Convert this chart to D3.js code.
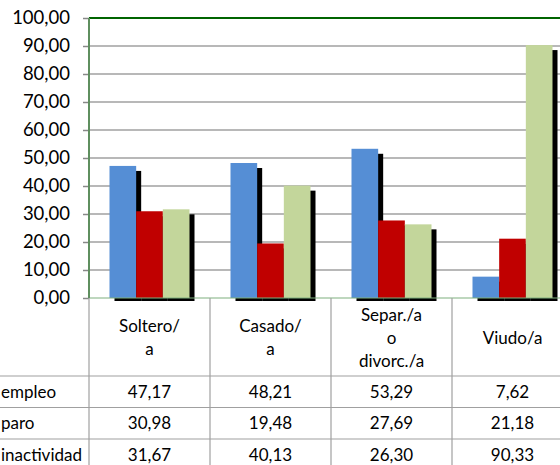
<!DOCTYPE html>
<html><head><meta charset="utf-8">
<script src="https://cdn.jsdelivr.net/npm/d3@7"></script>
<style>html,body{margin:0;padding:0;background:#fff;overflow:hidden}</style>
</head><body>
<svg id="c" width="560" height="465"></svg>
<script>
const categories = [["Soltero/","a"],["Casado/","a"],["Separ./a","o","divorc./a"],["Viudo/a"]];
const seriesNames = ["empleo","paro","inactividad"];
const empleo = [47.17, 48.21, 53.29, 7.62];
const paro = [30.98, 19.48, 27.69, 21.18];
const inactividad = [31.67, 40.13, 26.30, 90.33];
const yTicks = [0,10,20,30,40,50,60,70,80,90,100];
const colors = ["#558ed5","#c00000","#c3d69b"];

const seriesVals = [empleo, paro, inactividad];
const fmt = v => v.toFixed(2).replace(".", ",");
const svg = d3.select("#c");
const FONT = "Lato, 'Open Sans', sans-serif";
const TFS = 17;

const pLeft = 89, plotRight = 573, pTop = 18, base = 298;
const x = d3.scaleBand().domain(d3.range(categories.length)).range([pLeft, plotRight]).paddingInner(0).paddingOuter(0);
const bw = x.bandwidth();
const xs = d3.scaleBand().domain(d3.range(3)).range([20.5, bw - 20.5]);
const y = d3.scaleLinear().domain([0,100]).range([base, pTop]);

// gridlines
svg.append("g").selectAll("line").data(yTicks.filter(t => t > 0 && t < 100)).join("line")
  .attr("x1", pLeft).attr("x2", 560).attr("y1", d => y(d)).attr("y2", d => y(d))
  .attr("stroke", "#a0a0a0").attr("stroke-width", 1.6);

// y axis
const yAxis = d3.axisLeft(y).tickValues(yTicks).tickFormat(fmt).tickSize(6).tickPadding(13);
const ga = svg.append("g").attr("transform", `translate(${pLeft},0)`).call(yAxis);
ga.select(".domain").remove();
ga.selectAll(".tick line").attr("stroke", "#888").attr("stroke-width", 1.5);
ga.selectAll(".tick text").attr("font-family", FONT).attr("font-size", 18.5).attr("fill", "#000");

// shadows
const gs = svg.append("g");
seriesVals.forEach((vals, si) => {
  gs.selectAll(null).data(vals).join("rect")
    .attr("x", (d,i) => x(i) + xs(si) + 5)
    .attr("y", d => y(d) + 5)
    .attr("width", xs.bandwidth())
    .attr("height", d => base + 3 - (y(d) + 5))
    .attr("fill", "#000");
});
// bars
const gb = svg.append("g");
seriesVals.forEach((vals, si) => {
  gb.selectAll(null).data(vals).join("rect")
    .attr("x", (d,i) => x(i) + xs(si))
    .attr("y", d => y(d))
    .attr("width", xs.bandwidth())
    .attr("height", d => base - y(d))
    .attr("fill", colors[si]);
});

// baseline
svg.append("line").attr("x1", pLeft).attr("x2", 560).attr("y1", base).attr("y2", base)
  .attr("stroke", "#7fb07f").attr("stroke-width", 1.2);
// top border
svg.append("line").attr("x1", pLeft).attr("x2", 560).attr("y1", pTop).attr("y2", pTop)
  .attr("stroke", "#006400").attr("stroke-width", 2.2);
// left axis line
svg.append("line").attr("x1", pLeft).attr("x2", pLeft).attr("y1", pTop).attr("y2", base)
  .attr("stroke", "#5f8f5f").attr("stroke-width", 2);

// table
const rowLines = [376, 407.5, 439];
const tg = svg.append("g");
tg.selectAll("line.h").data(rowLines).join("line")
  .attr("x1", 0).attr("x2", 560).attr("y1", d => d).attr("y2", d => d)
  .attr("stroke", "#a0a0a0").attr("stroke-width", 1.2);
tg.selectAll("line.v").data(d3.range(categories.length + 1)).join("line")
  .attr("x1", i => i < categories.length ? x(i) : plotRight)
  .attr("x2", i => i < categories.length ? x(i) : plotRight)
  .attr("y1", base).attr("y2", 465)
  .attr("stroke", "#a0a0a0").attr("stroke-width", 1.2);

// header labels
const lineH = 23;
categories.forEach((lines, i) => {
  const cy = 338;
  const t = tg.append("text").attr("text-anchor", "middle").attr("font-family", FONT)
    .attr("font-size", TFS).attr("fill", "#000");
  lines.forEach((ln, k) => {
    t.append("tspan").attr("x", x(i) + bw/2)
      .attr("y", cy + (k - (lines.length - 1)/2) * lineH)
      .attr("dy", "0.35em").text(ln);
  });
});
// rows
const rowCenters = [392, 423.5, 455];
seriesNames.forEach((name, si) => {
  tg.append("text").attr("x", 1).attr("y", rowCenters[si]).attr("dy", "0.35em")
    .attr("font-family", FONT).attr("font-size", TFS).attr("fill", "#000").text(name);
  tg.selectAll(null).data(seriesVals[si]).join("text")
    .attr("x", (d,i) => x(i) + bw/2).attr("y", rowCenters[si]).attr("dy", "0.35em")
    .attr("text-anchor", "middle").attr("font-family", FONT).attr("font-size", TFS)
    .attr("fill", "#000").text(fmt);
});
</script>
</body></html>
